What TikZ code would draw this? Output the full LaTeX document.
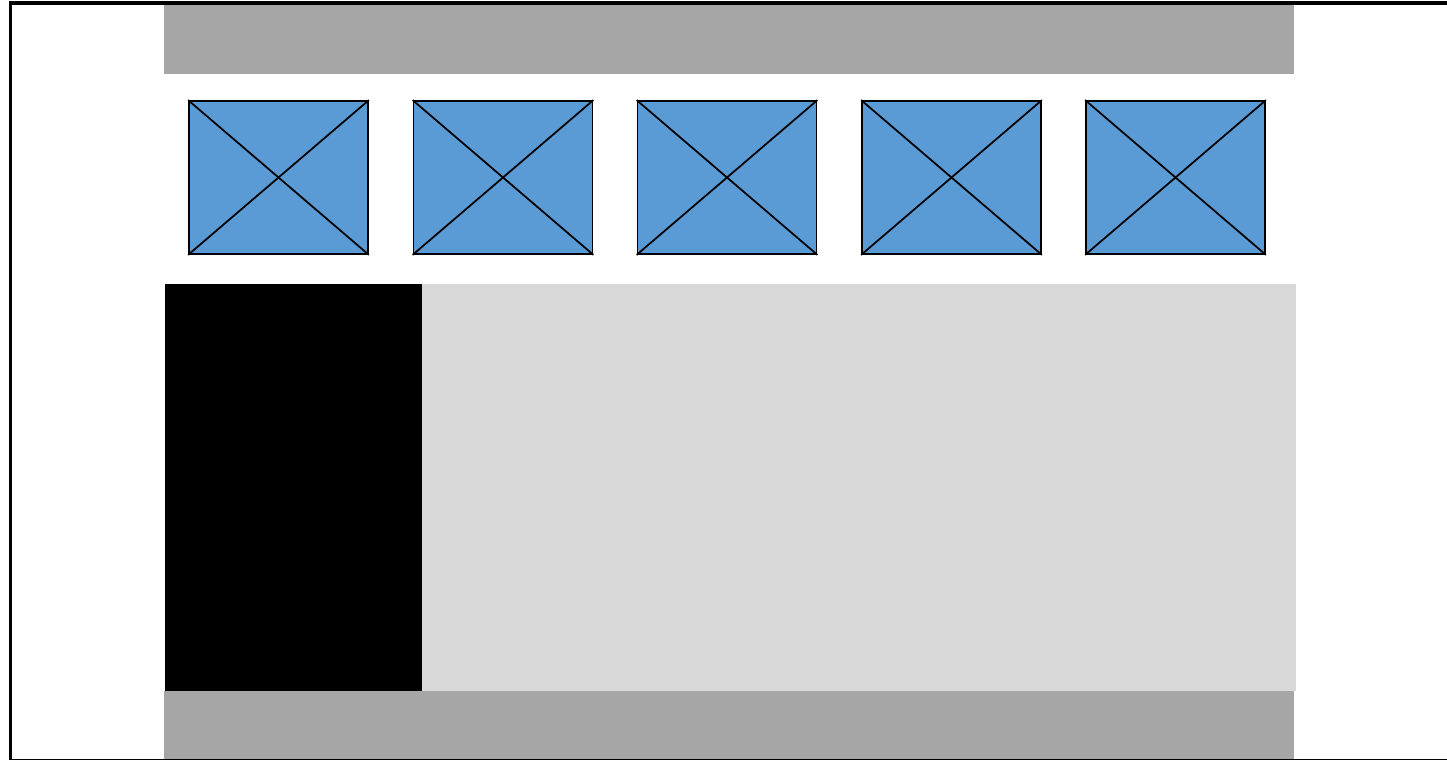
\documentclass[tikz,border=0pt]{standalone}
\usepackage{tikz}
\definecolor{bargray}{HTML}{A6A6A6}
\definecolor{panelgray}{HTML}{D9D9D9}
\definecolor{tileblue}{HTML}{5B9BD5}

\begin{document}
\begin{tikzpicture}
\useasboundingbox (0,0) rectangle (14.47,-7.60);
\fill[white] (0,0) rectangle (14.47,-7.60);
\begin{scope}[every node/.style={inner sep=0pt,outer sep=0pt}]
\node[fill=bargray,minimum width=11.30cm,minimum height=0.71cm] (header) at (7.29,-0.385) {};
\node[fill=black,minimum width=2.57cm,minimum height=4.07cm] (sidebar) at (2.935,-4.875) {};
\node[fill=panelgray,minimum width=8.74cm,minimum height=4.07cm] (content) at (8.59,-4.875) {};
\node[fill=bargray,minimum width=11.30cm,minimum height=0.75cm] (footer) at (7.29,-7.285) {};
\end{scope}
\begin{scope}[every node/.style={draw=black,fill=tileblue,line width=0.5pt,inner sep=0pt,minimum width=1.79cm,minimum height=1.53cm}]
\node (T1) at (2.785,-1.775) {};
\node (T2) at (5.03,-1.775) {};
\node (T3) at (7.27,-1.775) {};
\node (T4) at (9.515,-1.775) {};
\node (T5) at (11.755,-1.775) {};
\end{scope}
\draw [line width=0.5pt] (T1.north west) -- (T1.south east) (T1.south west) -- (T1.north east);
\draw [line width=0.5pt] (T2.north west) -- (T2.south east) (T2.south west) -- (T2.north east);
\draw [line width=0.5pt] (T3.north west) -- (T3.south east) (T3.south west) -- (T3.north east);
\draw [line width=0.5pt] (T4.north west) -- (T4.south east) (T4.south west) -- (T4.north east);
\draw [line width=0.5pt] (T5.north west) -- (T5.south east) (T5.south west) -- (T5.north east);
\draw [line width=0.9pt] (0.105,-0.03) rectangle (14.70,-7.61);
\end{tikzpicture}
\end{document}
